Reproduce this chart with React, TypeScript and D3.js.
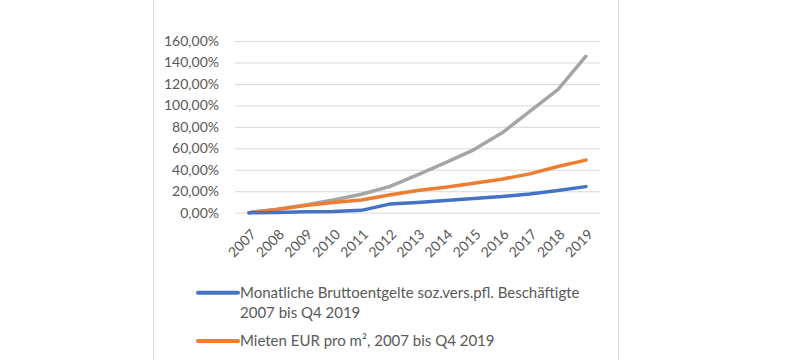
import React, { useEffect, useRef } from "react";
import * as d3 from "d3";

const years = ["2007", "2008", "2009", "2010", "2011", "2012", "2013", "2014", "2015", "2016", "2017", "2018", "2019"];
const brutto = [0, 0.3, 0.8, 1.2, 2.2, 8, 9.5, 11.4, 13.2, 15, 17.5, 20.6, 24.3];
const mieten = [0, 3, 6.6, 9.4, 11.9, 16.5, 20.6, 23.7, 27.5, 31.2, 36.2, 43, 49];
const dritte = [0, 3.2, 7.2, 11.9, 17.2, 24.3, 35.2, 46.7, 58.6, 74.2, 94.4, 114.7, 145.8];
const yTicks = [0, 20, 40, 60, 80, 100, 120, 140, 160];
const legendItems = [
  { lines: ["Monatliche Bruttoentgelte soz.vers.pfl. Beschäftigte", "2007 bis Q4 2019"], color: "#4472C4" },
  { lines: ["Mieten EUR pro m², 2007 bis Q4 2019"], color: "#ED7D31" },
];

const font = "Lato, 'Open Sans', sans-serif";
const textColor = "#595959";

function Chart() {
  const svgRef = useRef(null);

  useEffect(() => {
    const svg = d3.select(svgRef.current);
    svg.selectAll("*").remove();

    // chart area border
    svg.append("rect")
      .attr("x", 153.5).attr("y", -10)
      .attr("width", 465).attr("height", 400)
      .attr("fill", "#fff").attr("stroke", "#d9d9d9");

    const x = d3.scalePoint().domain(years).range([235, 600]).padding(0.5);
    const y = d3.scaleLinear().domain([0, 160]).range([212.7, 41]);

    const yAxis = svg.append("g")
      .attr("transform", "translate(235,0)")
      .call(d3.axisLeft(y).tickValues(yTicks).tickSize(-365)
        .tickFormat((d) => d3.format(".2f")(d).replace(".", ",") + "%"));
    yAxis.select(".domain").remove();
    yAxis.selectAll("line").attr("stroke", "#d9d9d9");
    yAxis.selectAll("text")
      .attr("x", -16)
      .attr("fill", textColor)
      .attr("font-size", 14)
      .attr("font-family", font);

    const xAxis = svg.append("g")
      .attr("transform", "translate(0,212.7)")
      .call(d3.axisBottom(x).tickSize(0));
    xAxis.select(".domain").remove();
    xAxis.selectAll("text")
      .attr("fill", textColor)
      .attr("font-size", 14)
      .attr("font-family", font)
      .attr("text-anchor", "end")
      .attr("dy", "0.35em")
      .attr("transform", "translate(4,19) rotate(-45)")
      .attr("y", 0).attr("x", 0);

    const line = d3.line<number>()
      .x((_, i) => x(years[i]) as number)
      .y((d) => y(d));

    const series = [
      { values: dritte, color: "#A5A5A5" },
      { values: mieten, color: "#ED7D31" },
      { values: brutto, color: "#4472C4" },
    ];
    svg.append("g").selectAll("path")
      .data(series)
      .join("path")
      .attr("fill", "none")
      .attr("stroke", (d) => d.color)
      .attr("stroke-width", 3.5)
      .attr("stroke-linejoin", "round")
      .attr("stroke-linecap", "round")
      .attr("d", (d) => line(d.values));

    const legendY = [292.7, 341];
    const legend = svg.append("g").selectAll("g")
      .data(legendItems)
      .join("g")
      .attr("transform", (_, i) => `translate(0,${legendY[i]})`);
    legend.append("line")
      .attr("x1", 198).attr("x2", 238)
      .attr("stroke", (d) => d.color)
      .attr("stroke-width", 4)
      .attr("stroke-linecap", "round");
    legend.each(function (d) {
      const g = d3.select(this);
      d.lines.forEach((t, j) => {
        g.append("text")
          .attr("x", 240)
          .attr("y", 5 + j * 20.5)
          .attr("fill", textColor)
          .attr("font-size", 15)
          .attr("font-family", font)
          .text(t);
      });
    });
  }, []);

  return (
    <svg
      ref={svgRef}
      width={800}
      height={360}
      style={{ position: "absolute", left: 0, top: 0, background: "#fff" }}
    />
  );
}

export default function App() {
  return <Chart />;
}
